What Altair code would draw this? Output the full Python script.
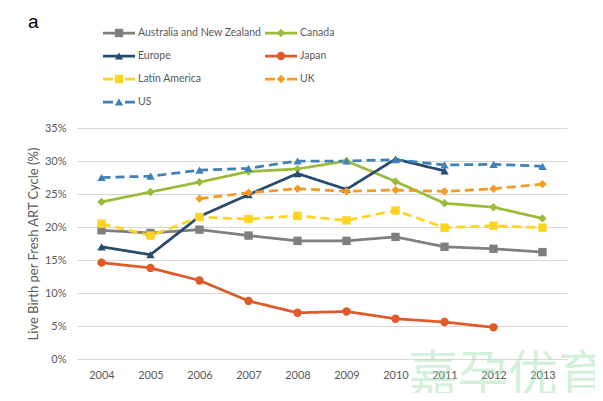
import altair as alt
import pandas as pd

series = ["Australia and New Zealand", "Canada", "Europe", "Japan",
          "Latin America", "UK", "US"]
years = [2004, 2005, 2006, 2007, 2008, 2009, 2010, 2011, 2012, 2013]

anz   = [19.5, 19.1, 19.6, 18.7, 17.9, 17.9, 18.5, 17.0, 16.7, 16.2]
can   = [23.8, 25.3, 26.8, 28.4, 28.8, 30.0, 26.9, 23.6, 23.0, 21.3]
eur   = [17.0, 15.8, 21.6, 24.9, 28.1, 25.7, 30.3, 28.5, None, None]
jpn   = [14.6, 13.8, 11.9, 8.8, 7.0, 7.2, 6.1, 5.6, 4.8, None]
latam = [20.5, 18.7, 21.5, 21.2, 21.7, 21.0, 22.5, 19.9, 20.2, 19.9]
uk    = [None, None, 24.3, 25.2, 25.8, 25.4, 25.6, 25.4, 25.8, 26.5]
us    = [27.5, 27.7, 28.6, 28.9, 30.0, 30.0, 30.2, 29.4, 29.5, 29.2]

y_ticks = [0, 0.05, 0.10, 0.15, 0.20, 0.25, 0.30, 0.35]

colors = ["#7F7F7F", "#9BBB3B", "#264B6E", "#E0592A", "#FFD320", "#F59A1F", "#3F7FBA"]
dashes = [[1, 0], [1, 0], [1, 0], [1, 0], [9, 5], [9, 5], [9, 5]]
leg_dashes = [[1, 0], [1, 0], [1, 0], [1, 0], [10, 12, 10], [10, 12, 10], [10, 12, 10]]
shapes = ["square", "diamond", "triangle-up", "circle", "square", "diamond", "triangle-up"]

rows = []
for name, mk, vals in zip(series, shapes, [anz, can, eur, jpn, latam, uk, us]):
    for yr, v in zip(years, vals):
        if v is not None:
            rows.append({"series": name, "marker": mk, "year": yr, "value": v / 100})
df = pd.DataFrame(rows)

# legend table: two columns, entries filled row by row
leg_df = pd.DataFrame({
    "series": series,
    "marker": shapes,
    "col": [i % 2 for i in range(len(series))],
    "row": [i // 2 for i in range(len(series))],
})

FONT = "Lato"
TXT = "#595959"

x = alt.X("year:Q", scale=alt.Scale(domain=[2003.5, 2013.5], nice=False, zero=False),
          axis=alt.Axis(values=years, format="d", grid=False, domain=False, ticks=False,
                        labelPadding=10, title=None))
y = alt.Y("value:Q", scale=alt.Scale(domain=[0, 0.35], nice=False),
          axis=alt.Axis(values=y_ticks, format=".0%", domain=False, ticks=False,
                        labelPadding=11, title="Live Birth per Fresh  ART Cycle (%)",
                        titleX=-44, titleY=115.5, titleAngle=-90, titleAlign="center",
                        titleBaseline="middle", titleFont=FONT, titleFontSize=13,
                        titleFontWeight="normal", titleColor=TXT))
x_na = alt.X("year:Q", scale=alt.Scale(domain=[2003.5, 2013.5], nice=False, zero=False), axis=None)
y_na = alt.Y("value:Q", scale=alt.Scale(domain=[0, 0.35], nice=False), axis=None)

color = alt.Color("series:N", scale=alt.Scale(domain=series, range=colors), legend=None)

lines = alt.Chart(df).mark_line(strokeWidth=2.75).encode(
    x=x, y=y, color=color,
    strokeDash=alt.StrokeDash("series:N", scale=alt.Scale(domain=series, range=dashes), legend=None),
    detail="series:N",
)

points = alt.Chart(df).mark_point(filled=True, opacity=1, size=70).encode(
    x=x_na, y=y_na, color=color,
    shape=alt.Shape("marker:N", scale=None),
)

# legend placed above the plot through its own column/row scales
lx = alt.X("col:Q", scale=alt.Scale(domain=[0, 1], range=[42, 204], nice=False, zero=False), axis=None)
ly = alt.Y("row:Q", scale=alt.Scale(domain=[0, 3], range=[-95, -26], nice=False, zero=False), axis=None)

leg_lines = alt.Chart(leg_df).mark_rule(strokeWidth=2.75, xOffset=-16, x2Offset=16).encode(
    x=lx, x2="col:Q", y=ly, color=color,
    strokeDash=alt.StrokeDash("series:N", scale=alt.Scale(domain=series, range=leg_dashes), legend=None),
)
leg_points = alt.Chart(leg_df).mark_point(filled=True, opacity=1, size=70).encode(
    x=lx, y=ly, color=color, shape=alt.Shape("marker:N", scale=None),
)
leg_text = alt.Chart(leg_df).mark_text(
    align="left", baseline="middle", dx=19, font=FONT, fontSize=10.5, color=TXT
).encode(x=lx, y=ly, text="series:N")

watermark = alt.Chart(pd.DataFrame({"t": ["嘉孕优育"]})).mark_text(
    font="Noto Sans CJK SC", fontSize=50, color="#9EE0B0", opacity=0.45,
    align="center", baseline="middle"
).encode(text="t:N", x=alt.value(431), y=alt.value(249))

panel_label = alt.Chart(pd.DataFrame({"t": ["a"]})).mark_text(
    font="Liberation Sans", fontSize=19, color="#000000", align="left", baseline="alphabetic"
).encode(text="t:N", x=alt.value(-49), y=alt.value(-100))

chart = alt.layer(lines, points, leg_lines, leg_points, leg_text, watermark, panel_label).resolve_scale(
    x="independent", y="independent", strokeDash="independent"
).properties(
    width=490, height=231,
    autosize=alt.AutoSizeParams(type="none"),
    padding={"left": 69, "top": 120, "right": 28, "bottom": 34},
).configure_view(stroke=None).configure_axis(
    gridColor="#D9D9D9", gridWidth=1, labelFont=FONT, labelFontSize=11, labelColor=TXT
)

chart.save("out.html", embed_options={"renderer": "svg", "actions": False})
